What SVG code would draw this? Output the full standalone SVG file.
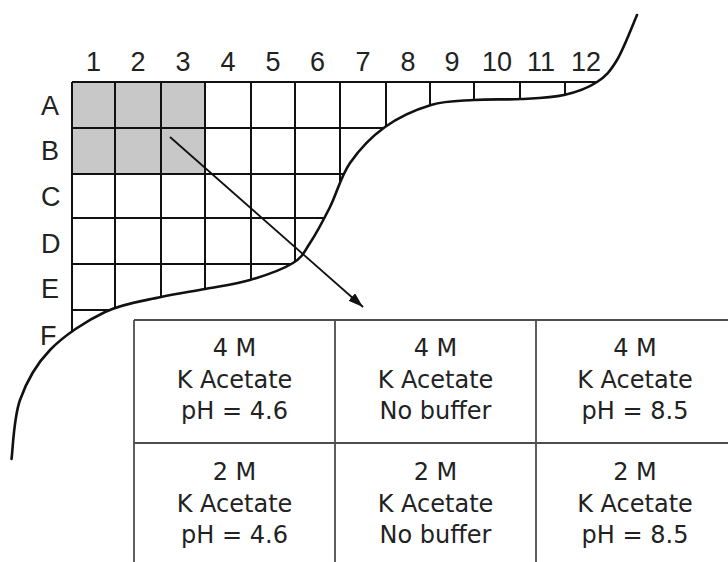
<svg xmlns="http://www.w3.org/2000/svg" width="728" height="562" viewBox="0 0 728 562">
<defs>
<style>
.grid{stroke:#111;stroke-width:2;fill:none}
.curve{stroke:#111;stroke-width:2.6;fill:none;stroke-linecap:round}
.lbl{font-family:"Liberation Sans",Arial,sans-serif;font-size:27px;fill:#222}
.col{text-anchor:middle}
.tbl{stroke:#4d4d4d;stroke-width:1.8;fill:none}
.cell{font-family:"DejaVu Sans","Liberation Sans",sans-serif;font-size:24px;fill:#222;text-anchor:middle}
.arrow{stroke:#111;stroke-width:1.8;fill:none}
</style>
<clipPath id="plateClip">
<path d="M11.5,459 C12.9,449.2 13.6,418.2 20,400 C26.4,381.8 35.8,364.7 50,350 C64.2,335.3 86.5,320.8 105,312 C123.5,303.2 144.3,300.8 161,297 C177.7,293.2 190.2,291.8 205,289 C219.8,286.2 235.3,284.3 250,280 C264.7,275.7 283,269.2 293,263 C303,256.8 303.8,252.3 310,243 C316.2,233.7 323.3,220.3 330,207 C336.7,193.7 340.8,176.3 350,163 C359.2,149.7 371.5,136.7 385,127 C398.5,117.3 416.2,109.5 431,105 C445.8,100.5 459,101 474,100 C489,99 506,99.8 521,99 C536,98.2 551.3,97.8 564,95 C576.7,92.2 588.2,87.8 597,82 C605.8,76.2 610.3,71.2 617,60 C623.7,48.8 633.7,22.5 637,15 L637,0 L0,0 Z"/>
</clipPath>
<marker id="ah" markerWidth="16" markerHeight="12" refX="15" refY="5" orient="auto" markerUnits="userSpaceOnUse">
<path d="M0,0 L15,5 L0,10 Z" fill="#111"/>
</marker>
</defs>
<rect width="728" height="562" fill="#fff"/>

<g id="plate">
<g clip-path="url(#plateClip)">
<rect x="72" y="82" width="133" height="92" fill="#c8c8c8"/>
<path class="grid" d="M72,82V400 M115,82V400 M161,82V400 M205,82V400 M251,82V400 M295,82V400 M340,82V400 M386,82V400 M430,82V400 M474,82V400 M520,82V400 M565,82V400 M72,82H620 M72,128H620 M72,174H620 M72,218H620 M72,264H620 M72,310H620"/>
</g>
<path class="curve" d="M11.5,459 C12.9,449.2 13.6,418.2 20,400 C26.4,381.8 35.8,364.7 50,350 C64.2,335.3 86.5,320.8 105,312 C123.5,303.2 144.3,300.8 161,297 C177.7,293.2 190.2,291.8 205,289 C219.8,286.2 235.3,284.3 250,280 C264.7,275.7 283,269.2 293,263 C303,256.8 303.8,252.3 310,243 C316.2,233.7 323.3,220.3 330,207 C336.7,193.7 340.8,176.3 350,163 C359.2,149.7 371.5,136.7 385,127 C398.5,117.3 416.2,109.5 431,105 C445.8,100.5 459,101 474,100 C489,99 506,99.8 521,99 C536,98.2 551.3,97.8 564,95 C576.7,92.2 588.2,87.8 597,82 C605.8,76.2 610.3,71.2 617,60 C623.7,48.8 633.7,22.5 637,15"/>
</g>

<g id="col-labels" class="lbl col">
<text x="93.5" y="71">1</text>
<text x="138" y="71">2</text>
<text x="183" y="71">3</text>
<text x="228" y="71">4</text>
<text x="273" y="71">5</text>
<text x="317.5" y="71">6</text>
<text x="363" y="71">7</text>
<text x="408" y="71">8</text>
<text x="452" y="71">9</text>
<text x="497" y="71">10</text>
<text x="541" y="71">11</text>
<text x="586" y="71">12</text>
</g>

<g id="row-labels" class="lbl">
<text x="41" y="115">A</text>
<text x="41" y="160">B</text>
<text x="41" y="206">C</text>
<text x="41" y="253">D</text>
<text x="41" y="298">E</text>
<text x="40" y="345">F</text>
</g>

<g id="table">
<path class="tbl" d="M134,320H728 M134,443H728 M134,320V562 M335,320V562 M536,320V562"/>
</g>

<g id="cell-4M-pH46" class="cell">
<text x="234.5" y="355.5">4 M</text>
<text x="234.5" y="388">K Acetate</text>
<text x="234.5" y="419">pH = 4.6</text>
</g>
<g id="cell-4M-nobuffer" class="cell">
<text x="435.5" y="355.5">4 M</text>
<text x="435.5" y="388">K Acetate</text>
<text x="435.5" y="419">No buffer</text>
</g>
<g id="cell-4M-pH85" class="cell">
<text x="635" y="355.5">4 M</text>
<text x="635" y="388">K Acetate</text>
<text x="635" y="419">pH = 8.5</text>
</g>
<g id="cell-2M-pH46" class="cell">
<text x="234.5" y="480">2 M</text>
<text x="234.5" y="511.5">K Acetate</text>
<text x="234.5" y="542.5">pH = 4.6</text>
</g>
<g id="cell-2M-nobuffer" class="cell">
<text x="435.5" y="480">2 M</text>
<text x="435.5" y="511.5">K Acetate</text>
<text x="435.5" y="542.5">No buffer</text>
</g>
<g id="cell-2M-pH85" class="cell">
<text x="635" y="480">2 M</text>
<text x="635" y="511.5">K Acetate</text>
<text x="635" y="542.5">pH = 8.5</text>
</g>

<g id="connectors">
<line class="arrow" x1="170" y1="137" x2="363" y2="307" marker-end="url(#ah)"/>
</g>
</svg>
